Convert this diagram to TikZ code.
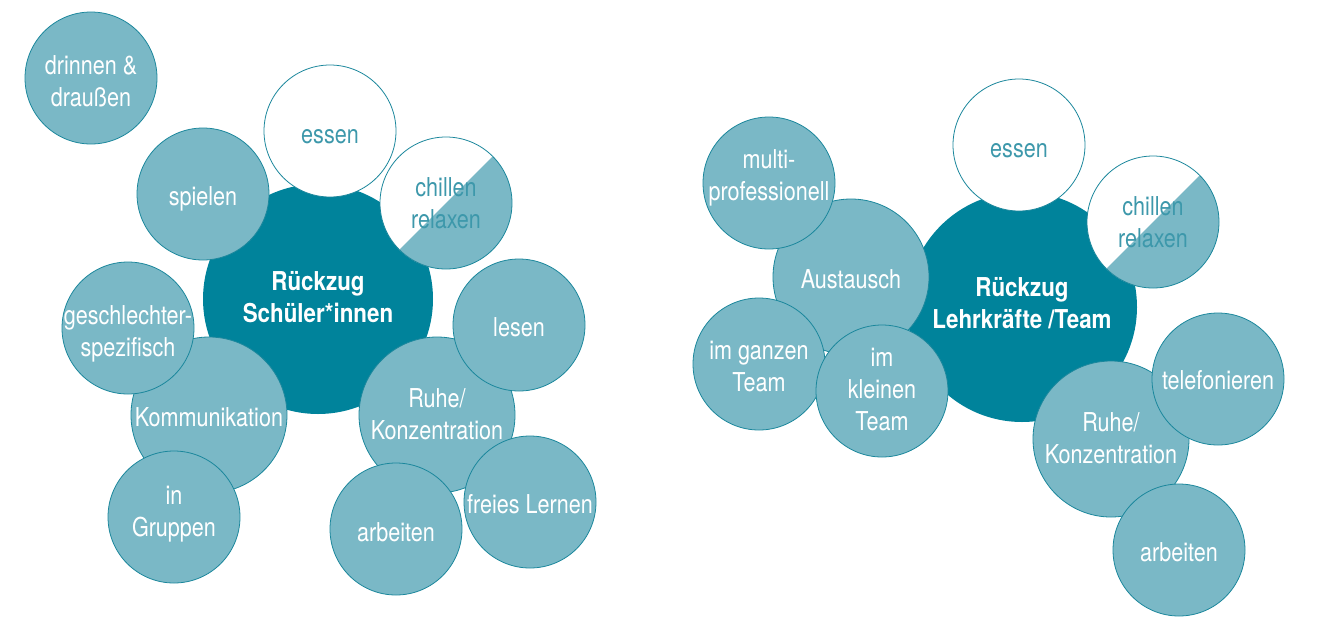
\documentclass[tikz,border=0pt]{standalone}
\usepackage{fontspec}
\setmainfont{TeX Gyre Heros}[FakeStretch=0.83, BoldFeatures={FakeStretch=0.86}]
\usepackage{tikz}
\usetikzlibrary{positioning}

\definecolor{tealdark}{HTML}{00839B}
\definecolor{teallight}{HTML}{7AB8C6}
\definecolor{tealline}{HTML}{1B879C}
\definecolor{tealtext}{HTML}{3D98AB}

\begin{document}
\begin{tikzpicture}[
    x=1pt, y=-1pt,
    bubble/.style={circle, draw=tealline, line width=0.8pt, inner sep=0pt},
    small/.style={bubble, minimum size=132pt, fill=teallight},
    mid/.style={bubble, minimum size=156pt, fill=teallight},
    hub/.style={bubble, minimum size=230pt, fill=tealdark, draw=none},
    plain/.style={small, fill=white},
    half/.style={plain, path picture={
        \fill[teallight] (path picture bounding box.north east)
            -- (path picture bounding box.south east)
            -- (path picture bounding box.south west) -- cycle;}},
    lbl/.style={anchor=base, align=center, inner sep=0pt, text=white,
                font=\fontsize{26}{32}\selectfont},
    lbld/.style={lbl, text=tealtext},
    hubtxt/.style={lbl, font=\fontsize{26}{32}\selectfont\bfseries},
]
\useasboundingbox (0,0) rectangle (1339,619);

% Schueler*innen
\node[hub] (hubL) at (318,299) {};
\node[hubtxt] (hubL-t) at ([yshift=-23pt]hubL.center) {Rückzug\\Schüler*innen};
\node[plain] (essenL) at (330,131) {};
\node[lbld] (essenL-t) at ([yshift=-12pt]essenL.center) {essen};
\node[half] (chillL) at (446,203) {};
\node[lbld] (chillL-t) at ([yshift=-25pt]chillL.center) {chillen\\relaxen};
\node[small] (spielen) at (203,194) {};
\node[lbl] (spielen-t) at ([yshift=-11pt]spielen.center) {spielen};
\node[small] (drinnen) at (91,78) {};
\node[lbl] (drinnen-t) at ([yshift=-28pt]drinnen.center) {drinnen \&\\draußen};
\node[mid] (komm) at (209,415) {};
\node[lbl] (komm-t) at ([yshift=-11pt]komm.center) {Kommunikation};
\node[small] (geschl) at (128,328) {};
\node[lbl] (geschl-t) at ([yshift=-28pt]geschl.center) {geschlechter-\\spezifisch};
\node[small] (gruppen) at (174,517) {};
\node[lbl] (gruppen-t) at ([yshift=-19pt]gruppen.center) {in\\Gruppen};
\node[mid] (ruheL) at (437,415) {};
\node[lbl] (ruheL-t) at ([yshift=-24pt]ruheL.center) {Ruhe/\\Konzentration};
\node[small] (lesen) at (519,325) {};
\node[lbl] (lesen-t) at ([yshift=-11pt]lesen.center) {lesen};
\node[small] (arbL) at (396,529) {};
\node[lbl] (arbL-t) at ([yshift=-12pt]arbL.center) {arbeiten};
\node[small] (frei) at (530,502) {};
\node[lbl] (frei-t) at ([yshift=-11pt]frei.center) {freies Lernen};

% Lehrkraefte / Team
\node[hub] (hubR) at (1022,307) {};
\node[hubtxt] (hubR-t) at ([yshift=-21pt]hubR.center) {Rückzug\\Lehrkräfte /Team};
\node[mid] (austausch) at (851,277) {};
\node[lbl] (austausch-t) at ([yshift=-11pt]austausch.center) {Austausch};
\node[small] (multi) at (769,183) {};
\node[lbl] (multi-t) at ([yshift=-17pt]multi.center) {multi-\\professionell};
\node[small] (ganz) at (759,364) {};
\node[lbl] (ganz-t) at ([yshift=-27pt]ganz.center) {im ganzen\\Team};
\node[small] (klein) at (882,391) {};
\node[lbl] (klein-t) at ([yshift=-39pt]klein.center) {im\\kleinen\\Team};
\node[plain] (essenR) at (1019,145) {};
\node[lbld] (essenR-t) at ([yshift=-12pt]essenR.center) {essen};
\node[half] (chillR) at (1153,222) {};
\node[lbld] (chillR-t) at ([yshift=-25pt]chillR.center) {chillen\\relaxen};
\node[mid] (ruheR) at (1111,439) {};
\node[lbl] (ruheR-t) at ([yshift=-24pt]ruheR.center) {Ruhe/\\Konzentration};
\node[small] (telefon) at (1218,379) {};
\node[lbl] (telefon-t) at ([yshift=-10pt]telefon.center) {telefonieren};
\node[small] (arbR) at (1179,550) {};
\node[lbl] (arbR-t) at ([yshift=-11pt]arbR.center) {arbeiten};

\end{tikzpicture}
\end{document}
